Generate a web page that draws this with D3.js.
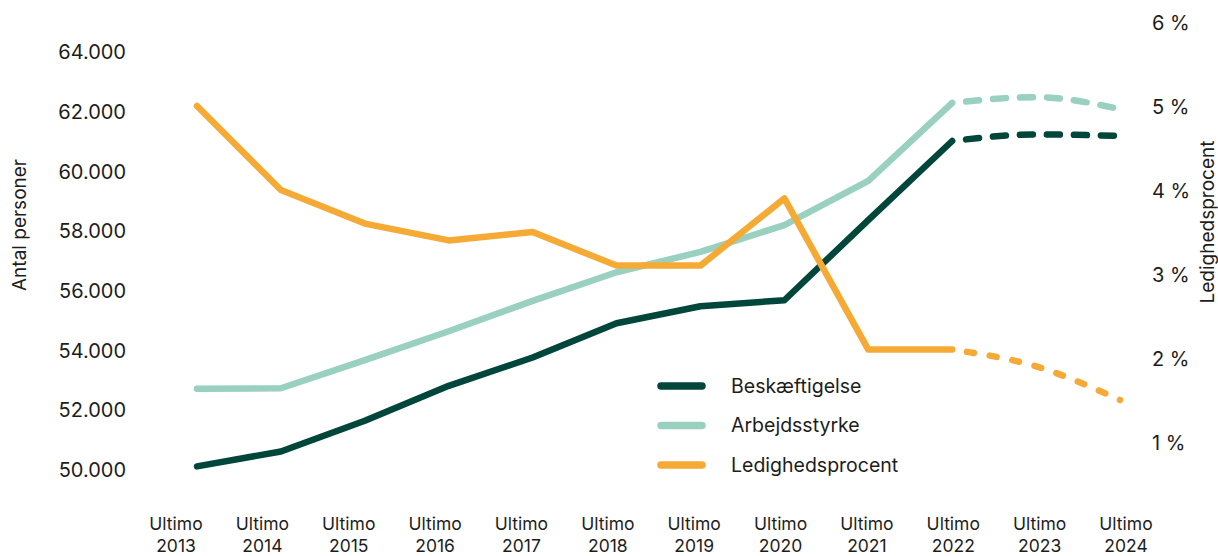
<!DOCTYPE html>
<html>
<head>
<meta charset="utf-8">
<script src="https://cdn.jsdelivr.net/npm/d3@7"></script>
<style>
  body { margin: 0; background: #fff; }
  svg text { font-family: Inter, "Noto Sans", sans-serif; fill: #1d1d1b; }
</style>
</head>
<body>
<div id="chart"></div>
<script>
// data
var years = [2013, 2014, 2015, 2016, 2017, 2018, 2019, 2020, 2021, 2022, 2023, 2024];
var beskaeftigelse = [50100, 50600, 51630, 52800, 53750, 54900, 55470, 55670, 58360, 61010, 61230, 61180];
var arbejdsstyrke  = [52700, 52720, 53660, 54630, 55650, 56610, 57290, 58190, 59670, 62290, 62480, 62080];
var ledighed       = [5.0, 4.0, 3.6, 3.4, 3.5, 3.1, 3.1, 3.9, 2.1, 2.1, 1.9, 1.5];
var forecastFrom = 2022;
var leftTicks = [50000, 52000, 54000, 56000, 58000, 60000, 62000, 64000];
var rightTicks = [1, 2, 3, 4, 5, 6];
var legendNames = ['Beskæftigelse', 'Arbejdsstyrke', 'Ledighedsprocent'];

var width = 1218, height = 556;
var colors = { dark: '#00463a', mint: '#99d0c0', orange: '#f5aa36' };

var da = d3.formatLocale({ decimal: ',', thousands: '.', grouping: [3], currency: ['', ' kr.'] });

var svg = d3.select('#chart').append('svg')
    .attr('width', width)
    .attr('height', height);

var x = d3.scalePoint().domain(years).range([197, 1120]);
var xLabel = d3.scalePoint().domain(years).range([176, 1126]);
var yL = d3.scaleLinear().domain([48000, 65000]).range([529, 22]);
var yR = d3.scaleLinear().domain([0, 6]).range([526, 22]);

// left axis
var gl = svg.append('g')
    .attr('transform', 'translate(135,0)')
    .call(d3.axisLeft(yL).tickValues(leftTicks).tickSize(0).tickPadding(9).tickFormat(da.format(',')));
gl.select('.domain').remove();
gl.selectAll('text').style('font-size', '20px').attr('dy', '0.35em');

// right axis
var gr = svg.append('g')
    .attr('transform', 'translate(1143,0)')
    .call(d3.axisRight(yR).tickValues(rightTicks).tickSize(0).tickPadding(9).tickFormat(function(d){ return d + ' %'; }));
gr.select('.domain').remove();
gr.selectAll('text').style('font-size', '20px').attr('dy', '0.35em');

// x labels: "Ultimo" over the year, two separate lines
var xg = svg.append('g').selectAll('g')
    .data(years)
    .enter()
    .append('g')
    .attr('transform', function(d){ return 'translate(' + xLabel(d) + ',0)'; });
xg.append('text')
    .attr('text-anchor', 'middle')
    .attr('y', 530)
    .style('font-size', '17.5px')
    .text('Ultimo');
xg.append('text')
    .attr('text-anchor', 'middle')
    .attr('y', 551.5)
    .style('font-size', '17.5px')
    .text(function(d){ return d; });

// axis titles
svg.append('text')
    .attr('transform', 'translate(26,225) rotate(-90)')
    .attr('text-anchor', 'middle')
    .style('font-size', '19px')
    .text('Antal personer');
svg.append('text')
    .attr('transform', 'translate(1214,222) rotate(-90)')
    .attr('text-anchor', 'middle')
    .style('font-size', '19px')
    .text('Ledighedsprocent');

// lines: solid up to 2022, dashed after
var series = [
    { values: arbejdsstyrke, y: yL, color: colors.mint, dash: '13 14', offset: 13 },
    { values: beskaeftigelse, y: yL, color: colors.dark, dash: '13 14', offset: 13 },
    { values: ledighed, y: yR, color: colors.orange, dash: '7 16', offset: 8 }
];

series.forEach(function(s){
    var pts = years.map(function(yr, i){ return { year: yr, v: s.values[i] }; });
    var line = d3.line()
        .x(function(d){ return x(d.year); })
        .y(function(d){ return s.y(d.v); });

    svg.append('path')
        .datum(pts.filter(function(d){ return d.year <= forecastFrom; }))
        .attr('d', line)
        .attr('fill', 'none')
        .attr('stroke', s.color)
        .attr('stroke-width', 6.5)
        .attr('stroke-linejoin', 'round')
        .attr('stroke-linecap', 'round');

    svg.append('path')
        .datum(pts.filter(function(d){ return d.year >= forecastFrom; }))
        .attr('d', line.curve(d3.curveMonotoneX))
        .attr('fill', 'none')
        .attr('stroke', s.color)
        .attr('stroke-width', 6.5)
        .attr('stroke-linecap', 'round')
        .attr('stroke-dasharray', s.dash)
        .attr('stroke-dashoffset', s.offset);
});

// legend
var legendColors = [colors.dark, colors.mint, colors.orange];
var lg = svg.append('g').selectAll('g')
    .data(legendNames)
    .enter()
    .append('g')
    .attr('transform', function(d, i){ return 'translate(0,' + (386 + i * 39.5) + ')'; });
lg.append('line')
    .attr('x1', 661).attr('x2', 702)
    .attr('stroke', function(d, i){ return legendColors[i]; })
    .attr('stroke-width', 7.5)
    .attr('stroke-linecap', 'round');
lg.append('text')
    .attr('x', 731)
    .attr('dy', '0.35em')
    .style('font-size', '19.5px')
    .text(function(d){ return d; });
</script>
</body>
</html>
